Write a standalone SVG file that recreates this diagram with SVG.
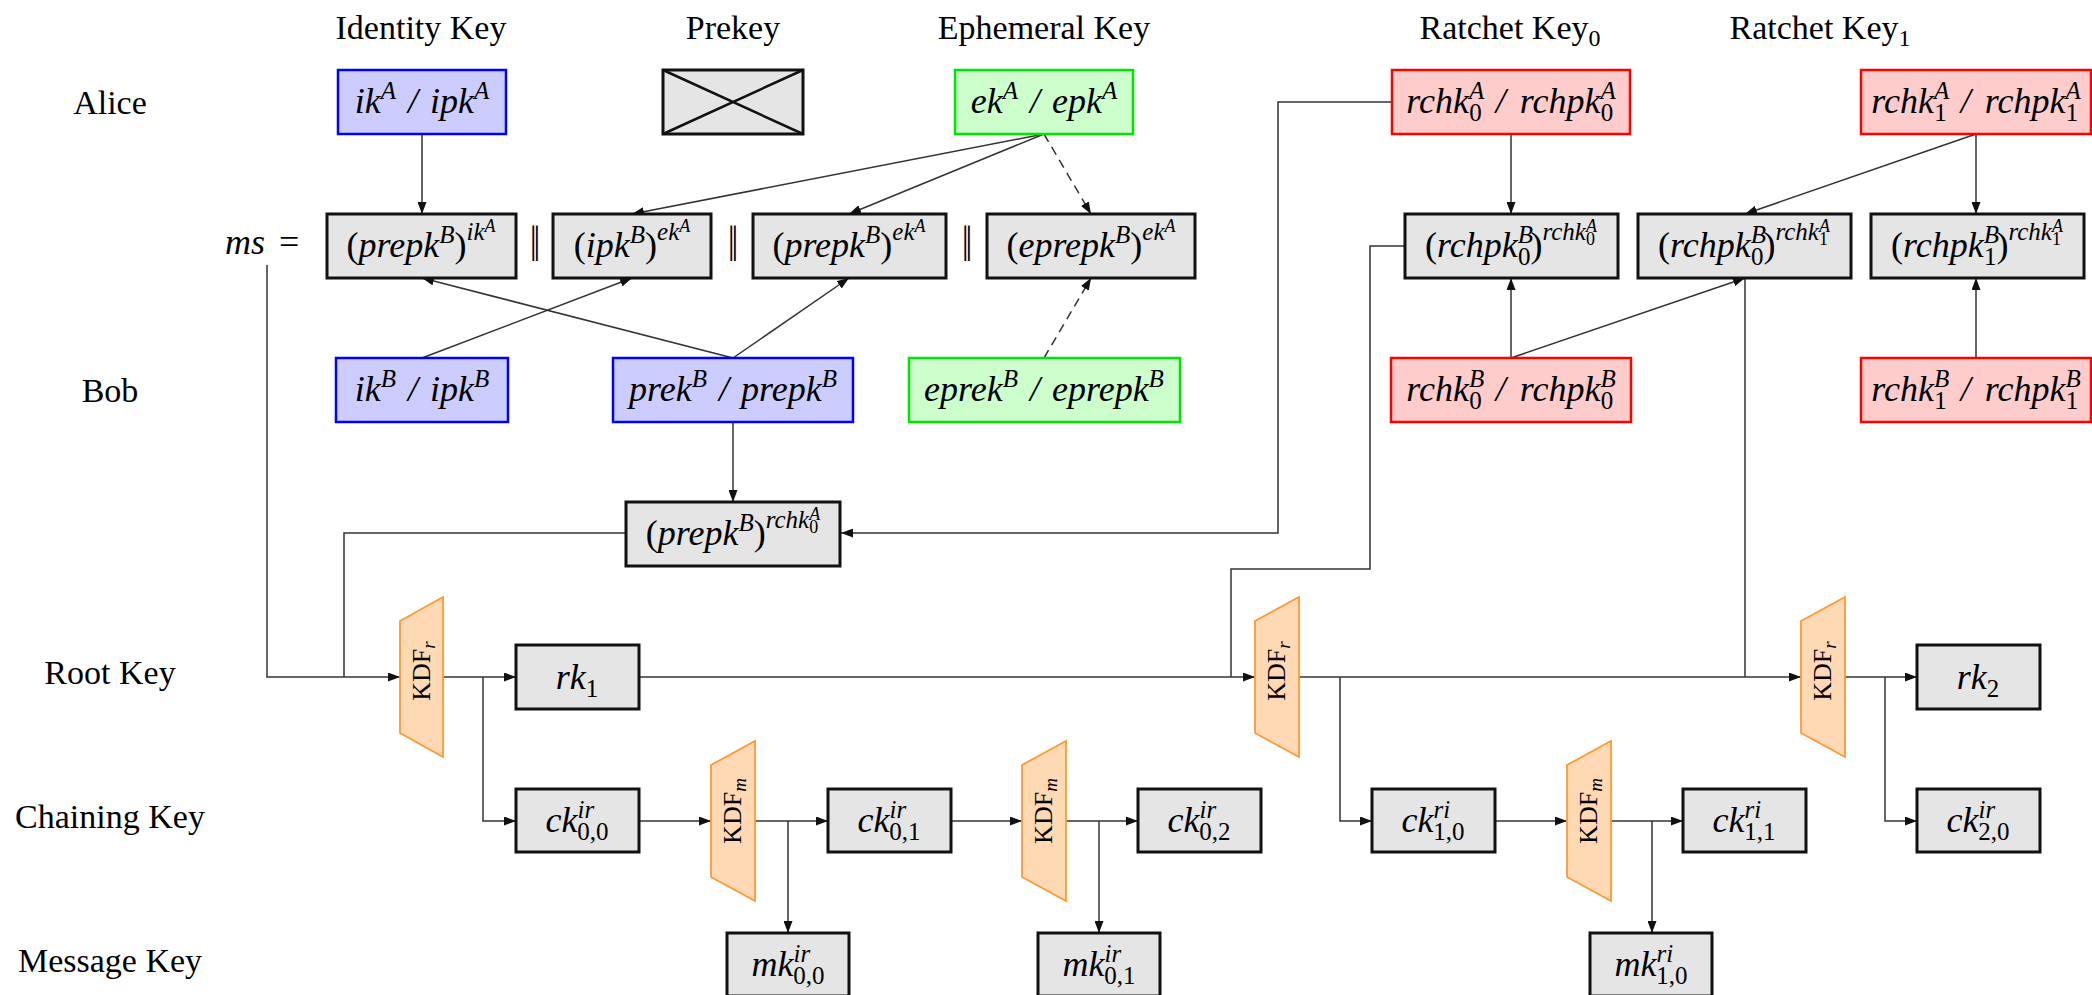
<svg xmlns="http://www.w3.org/2000/svg" width="2092" height="995" viewBox="0 0 2092 995">
  <style>
    .lbl { font-family: "Liberation Serif", "Times New Roman", serif; font-size: 34px; fill: #000; }
    .hs { font-size: 24px; }
    .mt { font-family: "Liberation Serif", "Times New Roman", serif; font-size: 36px; font-style: italic; fill: #000; }
    .sc { font-size: 25px; }
    .ssc { font-size: 18px; }
    .up { font-style: normal; }
    .par { font-family: "Liberation Serif", "DejaVu Serif", serif; font-size: 36px; fill: #000; }
    .kd { font-family: "Liberation Serif", "Times New Roman", serif; font-size: 26px; fill: #000; }
    .kds { font-size: 19px; font-style: italic; }
    .box { fill: #e5e5e5; stroke: #111; stroke-width: 3; }
    .blue { fill: #ccccff; stroke: #0000ff; stroke-width: 2.5; }
    .green { fill: #ccffcc; stroke: #00e600; stroke-width: 2.5; }
    .red { fill: #ffcccc; stroke: #ff0000; stroke-width: 2.5; }
    .kdf { fill: #ffd9b3; stroke: #ff9933; stroke-width: 1.8; }
    .ln { fill: none; stroke: #333; stroke-width: 1.5; }
    .arr { marker-end: url(#ah); }
    .dash { stroke-dasharray: 9 6; }
  </style>
  <defs>
    <marker id="ah" viewBox="0 0 12 9" refX="12" refY="4.5" markerWidth="12" markerHeight="9" markerUnits="userSpaceOnUse" orient="auto">
      <path d="M0,0 L12,4.5 L0,9 Z" fill="#111"/>
    </marker>
  </defs>
  <rect width="2092" height="995" fill="#fff"/>

  <!-- column headers -->
  <g id="headers">
    <text class="lbl" x="421" y="39" text-anchor="middle">Identity Key</text>
    <text class="lbl" x="733" y="39" text-anchor="middle">Prekey</text>
    <text class="lbl" x="1044" y="39" text-anchor="middle">Ephemeral Key</text>
    <text class="lbl" x="1510" y="39" text-anchor="middle">Ratchet Key<tspan class="hs" dy="7">0</tspan></text>
    <text class="lbl" x="1820" y="39" text-anchor="middle">Ratchet Key<tspan class="hs" dy="7">1</tspan></text>
  </g>

  <!-- row labels -->
  <g id="rows">
    <text class="lbl" x="110" y="114" text-anchor="middle">Alice</text>
    <text class="lbl" x="110" y="402" text-anchor="middle">Bob</text>
    <text class="lbl" x="110" y="684" text-anchor="middle">Root Key</text>
    <text class="lbl" x="110" y="828" text-anchor="middle">Chaining Key</text>
    <text class="lbl" x="110" y="972" text-anchor="middle">Message Key</text>
  </g>

  <!-- connectors -->
  <g id="connectors">
    <path class="ln arr" d="M422,134 V214"/>
    <path class="ln arr" d="M1044,134 L632,214"/>
    <path class="ln arr" d="M1044,134 L849,214"/>
    <path class="ln arr dash" d="M1044,134 L1091,214"/>
    <path class="ln arr" d="M422,358 L632,278"/>
    <path class="ln arr" d="M733,358 L422,278"/>
    <path class="ln arr" d="M733,358 L849,278"/>
    <path class="ln arr dash" d="M1044,358 L1091,278"/>
    <path class="ln arr" d="M733,422 V502"/>
    <path class="ln arr" d="M1511,134 V214"/>
    <path class="ln arr" d="M1511,358 V278"/>
    <path class="ln arr" d="M1511,358 L1745,278"/>
    <path class="ln arr" d="M1976,134 L1745,214"/>
    <path class="ln arr" d="M1976,134 V214"/>
    <path class="ln arr" d="M1976,358 V278"/>
    <path class="ln arr" d="M267,265 V677 H400"/>
    <path class="ln" d="M626,533 H344 V677"/>
    <path class="ln arr" d="M1392,102 H1278 V533 H841"/>
    <path class="ln" d="M1405,246 H1370 V569 H1231 V677"/>
    <path class="ln arr" d="M639,677 H1255"/>
    <path class="ln" d="M1745,278 V677"/>
    <path class="ln arr" d="M1299,677 H1801"/>
    <path class="ln arr" d="M443,677 H516"/>
    <path class="ln arr" d="M483,677 V821 H516"/>
    <path class="ln arr" d="M639,821 H711"/>
    <path class="ln arr" d="M755,821 H828"/>
    <path class="ln arr" d="M788,821 V933"/>
    <path class="ln arr" d="M951,821 H1022"/>
    <path class="ln arr" d="M1066,821 H1138"/>
    <path class="ln arr" d="M1099,821 V933"/>
    <path class="ln arr" d="M1340,677 V821 H1372"/>
    <path class="ln arr" d="M1495,821 H1567"/>
    <path class="ln arr" d="M1611,821 H1683"/>
    <path class="ln arr" d="M1652,821 V933"/>
    <path class="ln arr" d="M1845,677 H1917"/>
    <path class="ln arr" d="M1885,677 V821 H1917"/>
  </g>

  <!-- Alice key pairs -->
  <g id="ikA">
    <rect class="blue" x="338" y="70" width="168" height="64"/>
    <text class="mt" x="422" y="113" text-anchor="middle">ik<tspan class="sc" dy="-14">A</tspan><tspan dx="12" dy="14">/</tspan><tspan dx="12">ipk</tspan><tspan class="sc" dy="-14">A</tspan></text>
  </g>
  <g id="prekeyA">
    <rect class="box" x="663" y="70" width="140" height="64"/>
    <path d="M663,70 L803,134 M663,134 L803,70" stroke="#111" stroke-width="2.5" fill="none"/>
  </g>
  <g id="ekA">
    <rect class="green" x="955" y="70" width="178" height="64"/>
    <text class="mt" x="1044" y="113" text-anchor="middle">ek<tspan class="sc" dy="-14">A</tspan><tspan dx="12" dy="14">/</tspan><tspan dx="12">epk</tspan><tspan class="sc" dy="-14">A</tspan></text>
  </g>
  <g id="rchk0A">
    <rect class="red" x="1392" y="70" width="238" height="64"/>
    <text class="mt" x="1511" y="113" text-anchor="middle">rchk<tspan class="sc" dy="-14">A</tspan><tspan class="sc up" dx="-15" dy="22">0</tspan><tspan dx="14" dy="-8">/</tspan><tspan dx="14">rchpk</tspan><tspan class="sc" dy="-14">A</tspan><tspan class="sc up" dx="-15" dy="22">0</tspan></text>
  </g>
  <g id="rchk1A">
    <rect class="red" x="1861" y="70" width="230" height="64"/>
    <text class="mt" x="1976" y="113" text-anchor="middle">rchk<tspan class="sc" dy="-14">A</tspan><tspan class="sc up" dx="-15" dy="22">1</tspan><tspan dx="14" dy="-8">/</tspan><tspan dx="14">rchpk</tspan><tspan class="sc" dy="-14">A</tspan><tspan class="sc up" dx="-15" dy="22">1</tspan></text>
  </g>

  <!-- master secret: concatenation of the DH outputs -->
  <g id="ms">
    <text class="mt" x="225" y="254">ms<tspan class="up" dx="14">=</tspan></text>
    <text class="par" transform="translate(535,246) scale(1,1.4)" y="11" text-anchor="middle">‖</text>
    <text class="par" transform="translate(733,246) scale(1,1.4)" y="11" text-anchor="middle">‖</text>
    <text class="par" transform="translate(967,246) scale(1,1.4)" y="11" text-anchor="middle">‖</text>
  </g>
  <g id="dh1">
    <rect class="box" x="327" y="214" width="189" height="64"/>
    <text class="mt" x="421" y="257" text-anchor="middle"><tspan class="up">(</tspan>prepk<tspan class="sc" dy="-14">B</tspan><tspan class="up" dy="14">)</tspan><tspan class="sc" dy="-17">ik</tspan><tspan class="ssc" dy="-8">A</tspan></text>
  </g>
  <g id="dh2">
    <rect class="box" x="553" y="214" width="158" height="64"/>
    <text class="mt" x="632" y="257" text-anchor="middle"><tspan class="up">(</tspan>ipk<tspan class="sc" dy="-14">B</tspan><tspan class="up" dy="14">)</tspan><tspan class="sc" dy="-17">ek</tspan><tspan class="ssc" dy="-8">A</tspan></text>
  </g>
  <g id="dh3">
    <rect class="box" x="753" y="214" width="193" height="64"/>
    <text class="mt" x="849" y="257" text-anchor="middle"><tspan class="up">(</tspan>prepk<tspan class="sc" dy="-14">B</tspan><tspan class="up" dy="14">)</tspan><tspan class="sc" dy="-17">ek</tspan><tspan class="ssc" dy="-8">A</tspan></text>
  </g>
  <g id="dh4">
    <rect class="box" x="987" y="214" width="208" height="64"/>
    <text class="mt" x="1091" y="257" text-anchor="middle"><tspan class="up">(</tspan>eprepk<tspan class="sc" dy="-14">B</tspan><tspan class="up" dy="14">)</tspan><tspan class="sc" dy="-17">ek</tspan><tspan class="ssc" dy="-8">A</tspan></text>
  </g>
  <g id="dhr00">
    <rect class="box" x="1405" y="214" width="213" height="64"/>
    <text class="mt" x="1511" y="257" text-anchor="middle"><tspan class="up">(</tspan>rchpk<tspan class="sc" dy="-14">B</tspan><tspan class="sc up" dx="-15" dy="22">0</tspan><tspan class="up" dy="-8">)</tspan><tspan class="sc" dy="-17">rchk</tspan><tspan class="ssc" dy="-8">A</tspan><tspan class="ssc up" dx="-11" dy="13">0</tspan></text>
  </g>
  <g id="dhr01">
    <rect class="box" x="1638" y="214" width="213" height="64"/>
    <text class="mt" x="1744" y="257" text-anchor="middle"><tspan class="up">(</tspan>rchpk<tspan class="sc" dy="-14">B</tspan><tspan class="sc up" dx="-15" dy="22">0</tspan><tspan class="up" dy="-8">)</tspan><tspan class="sc" dy="-17">rchk</tspan><tspan class="ssc" dy="-8">A</tspan><tspan class="ssc up" dx="-11" dy="13">1</tspan></text>
  </g>
  <g id="dhr11">
    <rect class="box" x="1871" y="214" width="213" height="64"/>
    <text class="mt" x="1977" y="257" text-anchor="middle"><tspan class="up">(</tspan>rchpk<tspan class="sc" dy="-14">B</tspan><tspan class="sc up" dx="-15" dy="22">1</tspan><tspan class="up" dy="-8">)</tspan><tspan class="sc" dy="-17">rchk</tspan><tspan class="ssc" dy="-8">A</tspan><tspan class="ssc up" dx="-11" dy="13">1</tspan></text>
  </g>

  <!-- Bob key pairs -->
  <g id="ikB">
    <rect class="blue" x="336" y="358" width="172" height="64"/>
    <text class="mt" x="422" y="401" text-anchor="middle">ik<tspan class="sc" dy="-14">B</tspan><tspan dx="12" dy="14">/</tspan><tspan dx="12">ipk</tspan><tspan class="sc" dy="-14">B</tspan></text>
  </g>
  <g id="prekB">
    <rect class="blue" x="613" y="358" width="240" height="64"/>
    <text class="mt" x="733" y="401" text-anchor="middle">prek<tspan class="sc" dy="-14">B</tspan><tspan dx="12" dy="14">/</tspan><tspan dx="12">prepk</tspan><tspan class="sc" dy="-14">B</tspan></text>
  </g>
  <g id="eprekB">
    <rect class="green" x="909" y="358" width="271" height="64"/>
    <text class="mt" x="1044" y="401" text-anchor="middle">eprek<tspan class="sc" dy="-14">B</tspan><tspan dx="12" dy="14">/</tspan><tspan dx="12">eprepk</tspan><tspan class="sc" dy="-14">B</tspan></text>
  </g>
  <g id="rchk0B">
    <rect class="red" x="1391" y="358" width="240" height="64"/>
    <text class="mt" x="1511" y="401" text-anchor="middle">rchk<tspan class="sc" dy="-14">B</tspan><tspan class="sc up" dx="-15" dy="22">0</tspan><tspan dx="14" dy="-8">/</tspan><tspan dx="14">rchpk</tspan><tspan class="sc" dy="-14">B</tspan><tspan class="sc up" dx="-15" dy="22">0</tspan></text>
  </g>
  <g id="rchk1B">
    <rect class="red" x="1861" y="358" width="230" height="64"/>
    <text class="mt" x="1976" y="401" text-anchor="middle">rchk<tspan class="sc" dy="-14">B</tspan><tspan class="sc up" dx="-15" dy="22">1</tspan><tspan dx="14" dy="-8">/</tspan><tspan dx="14">rchpk</tspan><tspan class="sc" dy="-14">B</tspan><tspan class="sc up" dx="-15" dy="22">1</tspan></text>
  </g>

  <g id="dhpre">
    <rect class="box" x="626" y="502" width="214" height="64"/>
    <text class="mt" x="733" y="545" text-anchor="middle"><tspan class="up">(</tspan>prepk<tspan class="sc" dy="-14">B</tspan><tspan class="up" dy="14">)</tspan><tspan class="sc" dy="-17">rchk</tspan><tspan class="ssc" dy="-8">A</tspan><tspan class="ssc up" dx="-11" dy="13">0</tspan></text>
  </g>

  <!-- key derivation functions -->
  <g id="kdfr1">
    <path class="kdf" d="M400,621 L443,597 L443,757 L400,733 Z"/>
    <text class="kd" transform="translate(430,671) rotate(-90)" text-anchor="middle">KDF<tspan class="kds" dy="5">r</tspan></text>
  </g>
  <g id="kdfr2">
    <path class="kdf" d="M1255,621 L1299,597 L1299,757 L1255,733 Z"/>
    <text class="kd" transform="translate(1285,671) rotate(-90)" text-anchor="middle">KDF<tspan class="kds" dy="5">r</tspan></text>
  </g>
  <g id="kdfr3">
    <path class="kdf" d="M1801,621 L1845,597 L1845,757 L1801,733 Z"/>
    <text class="kd" transform="translate(1831,671) rotate(-90)" text-anchor="middle">KDF<tspan class="kds" dy="5">r</tspan></text>
  </g>
  <g id="kdfm1">
    <path class="kdf" d="M711,765 L755,741 L755,901 L711,877 Z"/>
    <text class="kd" transform="translate(741,811) rotate(-90)" text-anchor="middle">KDF<tspan class="kds" dy="5">m</tspan></text>
  </g>
  <g id="kdfm2">
    <path class="kdf" d="M1022,765 L1066,741 L1066,901 L1022,877 Z"/>
    <text class="kd" transform="translate(1052,811) rotate(-90)" text-anchor="middle">KDF<tspan class="kds" dy="5">m</tspan></text>
  </g>
  <g id="kdfm3">
    <path class="kdf" d="M1567,765 L1611,741 L1611,901 L1567,877 Z"/>
    <text class="kd" transform="translate(1597,811) rotate(-90)" text-anchor="middle">KDF<tspan class="kds" dy="5">m</tspan></text>
  </g>

  <!-- root keys -->
  <g id="rk1">
    <rect class="box" x="516" y="645" width="123" height="64"/>
    <text class="mt" x="577" y="689" text-anchor="middle">rk<tspan class="sc up" dy="8">1</tspan></text>
  </g>
  <g id="rk2">
    <rect class="box" x="1917" y="645" width="123" height="64"/>
    <text class="mt" x="1978" y="689" text-anchor="middle">rk<tspan class="sc up" dy="8">2</tspan></text>
  </g>

  <!-- chaining keys -->
  <g id="ck00">
    <rect class="box" x="516" y="789" width="123" height="63"/>
    <text class="mt" x="577" y="832" text-anchor="middle">ck<tspan class="sc" dy="-14">ir</tspan><tspan class="sc up" dx="-17" dy="22">0,0</tspan></text>
  </g>
  <g id="ck01">
    <rect class="box" x="828" y="789" width="123" height="63"/>
    <text class="mt" x="889" y="832" text-anchor="middle">ck<tspan class="sc" dy="-14">ir</tspan><tspan class="sc up" dx="-17" dy="22">0,1</tspan></text>
  </g>
  <g id="ck02">
    <rect class="box" x="1138" y="789" width="123" height="63"/>
    <text class="mt" x="1199" y="832" text-anchor="middle">ck<tspan class="sc" dy="-14">ir</tspan><tspan class="sc up" dx="-17" dy="22">0,2</tspan></text>
  </g>
  <g id="ck10">
    <rect class="box" x="1372" y="789" width="123" height="63"/>
    <text class="mt" x="1433" y="832" text-anchor="middle">ck<tspan class="sc" dy="-14">ri</tspan><tspan class="sc up" dx="-17" dy="22">1,0</tspan></text>
  </g>
  <g id="ck11">
    <rect class="box" x="1683" y="789" width="123" height="63"/>
    <text class="mt" x="1744" y="832" text-anchor="middle">ck<tspan class="sc" dy="-14">ri</tspan><tspan class="sc up" dx="-17" dy="22">1,1</tspan></text>
  </g>
  <g id="ck20">
    <rect class="box" x="1917" y="789" width="123" height="63"/>
    <text class="mt" x="1978" y="832" text-anchor="middle">ck<tspan class="sc" dy="-14">ir</tspan><tspan class="sc up" dx="-17" dy="22">2,0</tspan></text>
  </g>

  <!-- message keys -->
  <g id="mk00">
    <rect class="box" x="727" y="933" width="122" height="63"/>
    <text class="mt" x="788" y="976" text-anchor="middle">mk<tspan class="sc" dy="-14">ir</tspan><tspan class="sc up" dx="-17" dy="22">0,0</tspan></text>
  </g>
  <g id="mk01">
    <rect class="box" x="1038" y="933" width="122" height="63"/>
    <text class="mt" x="1099" y="976" text-anchor="middle">mk<tspan class="sc" dy="-14">ir</tspan><tspan class="sc up" dx="-17" dy="22">0,1</tspan></text>
  </g>
  <g id="mk10">
    <rect class="box" x="1590" y="933" width="122" height="63"/>
    <text class="mt" x="1651" y="976" text-anchor="middle">mk<tspan class="sc" dy="-14">ri</tspan><tspan class="sc up" dx="-17" dy="22">1,0</tspan></text>
  </g>
</svg>
